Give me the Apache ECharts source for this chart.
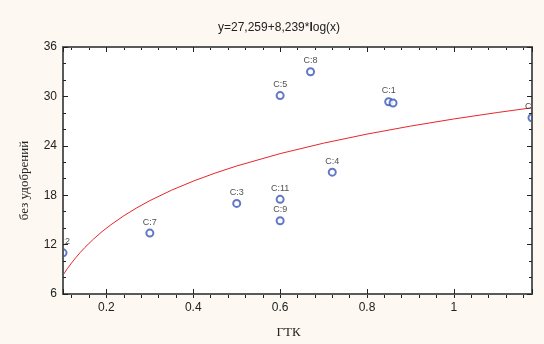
<!DOCTYPE html>
<html>
<head>
<meta charset="utf-8">
<script src="https://cdn.jsdelivr.net/npm/echarts@6/dist/echarts.min.js"></script>
<style>
html,body{margin:0;padding:0;background:#fdf9f2;}
#chart{width:544px;height:344px;}
</style>
</head>
<body>
<div id="chart"></div>
<script>
// Observations (ГТК vs без удобрений)
const pointNames = ['C:1', '', 'C:2', 'C:3', 'C:4', 'C:5', 'C:6', 'C:7', 'C:8', 'C:9', 'C:11'];
const pointX     = [0.85, 0.86, 0.10, 0.50, 0.72, 0.60, 1.18, 0.30, 0.67, 0.60, 0.60];
const pointY     = [29.35, 29.2, 11.0, 17.0, 20.8, 30.1, 27.4, 13.4, 33.0, 14.9, 17.5];

// Fitted curve, values
const curveX = [0.10, 0.11, 0.12, 0.13, 0.14, 0.15, 0.17, 0.19, 0.21, 0.24, 0.27, 0.30, 0.35, 0.40, 0.45, 0.50, 0.60, 0.70, 0.80, 0.90, 1.00, 1.10, 1.18];
const curveY = [8.3, 9.07, 9.79, 10.45, 11.06, 11.63, 12.66, 13.58, 14.4, 15.5, 16.47, 17.34, 18.61, 19.71, 20.68, 21.55, 23.05, 24.32, 25.42, 26.39, 27.26, 28.04, 28.62];

// Axis ticks
const xLabelValues = [0.2, 0.4, 0.6, 0.8, 1];
const xMin = 0.1, xMax = 1.18;
const xMinorStep = 0.04, xMinorMin = 0.08, xMinorMax = 1.20;
const yMin = 6, yMax = 36, yStep = 6;

const titleText = 'y=27,259+8,239*';
const axisNameX = 'ГТК';
const axisNameY = 'без удобрений';

const BG = '#fdf9f2';
const AXIS = '#5a5a5a';
const TXT = '#222';
const FONT = 'Arial, "Liberation Sans", sans-serif';
const SERIF = '"Times New Roman", "Liberation Serif", serif';

// grid geometry
const G = {left: 63, right: 12, top: 47, bottom: 46};
const plotW = 544 - G.left - G.right;
const pxPerUnit = plotW / (xMax - xMin);
const G2 = {
  left: G.left - (xMin - xMinorMin) * pxPerUnit,
  right: G.right - (xMinorMax - xMax) * pxPerUnit,
  top: G.top, bottom: G.bottom
};

const chart = echarts.init(document.getElementById('chart'), null, {renderer: 'canvas'});

const scatterData = pointX.map((x, i) => ({value: [x, pointY[i]], name: pointNames[i]}));
const lineData = curveX.map((x, i) => [x, curveY[i]]);

const xAxisBase = {
  type: 'value', min: xMin, max: xMax, z: 10, gridIndex: 0,
  splitLine: {show: false},
  axisLine: {show: true, onZero: false, lineStyle: {color: AXIS, width: 2}},
  axisTick: {show: true, inside: true, length: 5, lineStyle: {color: TXT, width: 1}}
};
const xMinorBase = {
  type: 'value', min: xMinorMin, max: xMinorMax, interval: xMinorStep, z: 1, gridIndex: 1,
  splitLine: {show: false},
  axisLine: {show: false, onZero: false},
  axisLabel: {show: false},
  axisTick: {show: true, inside: true, length: 3, lineStyle: {color: TXT, width: 1}}
};
const yAxisBase = {
  type: 'value', min: yMin, max: yMax, interval: yStep, z: 10, gridIndex: 0,
  splitLine: {show: false},
  axisLine: {show: true, onZero: false, lineStyle: {color: AXIS, width: 2}},
  axisTick: {show: true, inside: true, length: 5, lineStyle: {color: TXT, width: 1}},
  minorTick: {show: true, splitNumber: 3, length: 3, lineStyle: {color: TXT, width: 1}}
};

chart.setOption({
  backgroundColor: BG,
  animation: false,
  title: {
    text: '{a|' + titleText + '}{b|l}{a|og(x)}',
    left: 213, top: 17,
    textStyle: {
      fontWeight: 'normal',
      rich: {
        a: {fontFamily: FONT, fontSize: 12, color: TXT, fontWeight: 'normal'},
        b: {fontFamily: FONT, fontSize: 12, color: TXT, fontWeight: 'bold'}
      }
    }
  },
  grid: [
    Object.assign({show: true, backgroundColor: '#fff', borderWidth: 0}, G),
    Object.assign({show: false}, G2)
  ],
  xAxis: [
    Object.assign({}, xAxisBase, {
      position: 'bottom',
      name: axisNameX, nameLocation: 'middle', nameGap: 32,
      nameTextStyle: {fontFamily: SERIF, fontSize: 13, color: TXT, padding: [0, 18, 0, 0]},
      axisLabel: {show: true, customValues: xLabelValues, margin: 8, fontFamily: FONT, fontSize: 12, color: TXT}
    }),
    Object.assign({}, xAxisBase, {position: 'top', axisLabel: {show: false}}),
    Object.assign({}, xMinorBase, {position: 'bottom'}),
    Object.assign({}, xMinorBase, {position: 'top'})
  ],
  yAxis: [
    Object.assign({}, yAxisBase, {
      position: 'left',
      name: axisNameY, nameLocation: 'middle', nameGap: 32,
      nameTextStyle: {fontFamily: SERIF, fontSize: 13, color: TXT, padding: [0, 20, 0, 0]},
      axisLabel: {show: true, margin: 6, fontFamily: FONT, fontSize: 12, color: TXT}
    }),
    Object.assign({}, yAxisBase, {position: 'right', axisLabel: {show: false}}),
    {type: 'value', gridIndex: 1, min: yMin, max: yMax, show: false}
  ],
  graphic: [
    {type: 'rect', z: 5, silent: true, shape: {x: 0, y: 0, width: 62, height: 344}, style: {fill: BG}},
    {type: 'rect', z: 5, silent: true, shape: {x: 533, y: 0, width: 11, height: 344}, style: {fill: BG}}
  ],
  series: [
    {
      type: 'line', xAxisIndex: 0, yAxisIndex: 0, data: lineData,
      smooth: false, showSymbol: false, silent: true, clip: true,
      lineStyle: {color: '#e8262c', width: 1}, z: 2
    },
    {
      type: 'scatter', xAxisIndex: 0, yAxisIndex: 0, data: scatterData,
      symbol: 'emptyCircle', symbolSize: 7, clip: true, z: 3,
      itemStyle: {color: '#3858b8', borderColor: '#3858b8', borderWidth: 1},
      label: {show: true, position: 'top', distance: 2, formatter: p => p.name,
        fontFamily: FONT, fontSize: 9, color: TXT}
    }
  ]
});
</script>
</body>
</html>
